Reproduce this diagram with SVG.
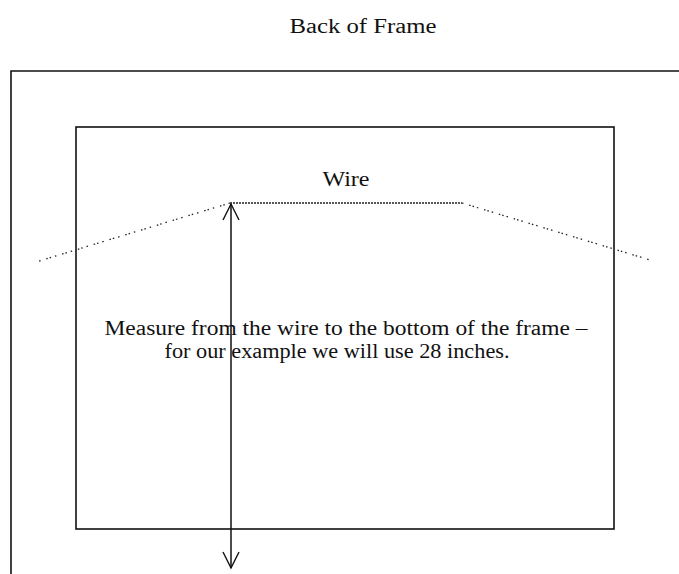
<svg xmlns="http://www.w3.org/2000/svg" width="679" height="574" viewBox="0 0 679 574">
<style>
.t{font-family:"Liberation Serif","Times New Roman",serif;fill:#111;}
.box{fill:none;stroke:#111;stroke-width:1.6;}
.wire{fill:none;stroke:#222;stroke-width:1.3;}
</style>
<defs>
<marker id="ah" viewBox="0 0 20 20" refX="18" refY="10" markerWidth="20" markerHeight="20" markerUnits="userSpaceOnUse" orient="auto-start-reverse">
<path d="M2,2 L18,10 L2,18" fill="none" stroke="#111" stroke-width="1.4"/>
</marker>
</defs>
<rect width="679" height="574" fill="#fff"/>
<g id="title"><text class="t" x="363" y="33" font-size="20" text-anchor="middle" textLength="147" lengthAdjust="spacingAndGlyphs">Back of Frame</text></g>
<g id="outer-frame"><path class="box" d="M11,585 L11,71 L690,71"/></g>
<g id="inner-frame"><rect class="box" x="76" y="127" width="538" height="402"/></g>
<g id="wire">
<line class="wire" x1="230" y1="203" x2="462" y2="203" stroke-dasharray="2 1"/>
<line class="wire" x1="230" y1="203" x2="36" y2="262" stroke-dasharray="1.5 4 1.5 2 1.5 6"/>
<line class="wire" x1="462" y1="203" x2="650" y2="260" stroke-dasharray="1.5 6 1.5 2 1.5 3"/>
<text class="t" x="346" y="186" font-size="20" text-anchor="middle" textLength="47" lengthAdjust="spacingAndGlyphs">Wire</text>
</g>
<g id="connectors">
<line x1="231" y1="204" x2="231" y2="568" stroke="#111" stroke-width="1.5" marker-start="url(#ah)" marker-end="url(#ah)"/>
</g>
<g id="measure-label">
<text class="t" x="346" y="335" font-size="20" text-anchor="middle" textLength="483" lengthAdjust="spacingAndGlyphs">Measure from the wire to the bottom of the frame –</text>
<text class="t" x="337" y="358" font-size="20" text-anchor="middle" textLength="345" lengthAdjust="spacingAndGlyphs">for our example we will use 28 inches.</text>
</g>
</svg>
